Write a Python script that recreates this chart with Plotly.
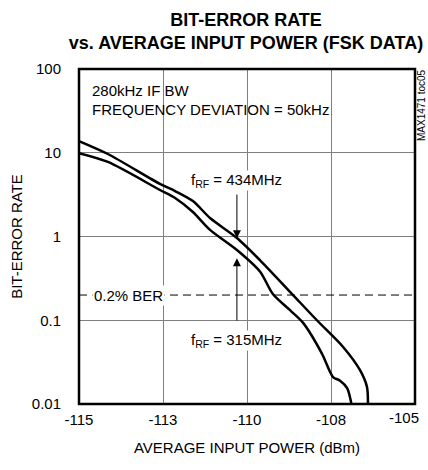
import math
import plotly.graph_objects as go

# Data (x: average input power dBm, y: bit-error rate)
x_434 = [-115.0, -114.14, -112.59, -112.14, -111.61, -111.10, -110.30, -109.61,
         -108.63, -107.92, -107.14, -106.64, -106.43, -106.40]
ber_434 = [13.8, 9.66, 4.24, 3.49, 2.65, 1.66, 0.96, 0.52,
           0.20, 0.10, 0.048, 0.0255, 0.016, 0.0098]

x_315 = [-115.0, -114.14, -112.59, -112.14, -111.61, -111.10, -110.30, -109.61,
         -109.23, -108.72, -108.33, -107.77, -107.44, -107.23, -107.02, -106.88]
ber_315 = [9.9, 7.76, 3.59, 2.88, 1.96, 1.20, 0.69, 0.38,
           0.206, 0.132, 0.093, 0.040, 0.021, 0.019, 0.0155, 0.0095]

ber_ref_level = 0.2
x_ticks = [-115, -112.5, -110, -107.5, -105]
x_tick_text = ["-115", "-113", "-110", "-108", "-105"]
y_ticks = [0.01, 0.1, 1, 10, 100]
y_tick_text = ["0.01", "0.1", "1", "10", "100"]

FONT = "Liberation Sans, Arial, sans-serif"
L, R, T, B = 79, 13, 69, 66
W, H = 428, 470


def lg(v):
    return math.log10(v)


def px_x(p):
    return (p - L) / (W - L - R)


def px_y(p):
    return 1 - (p - T) / (H - T - B)


fig = go.Figure()
fig.add_trace(go.Scatter(x=x_434, y=ber_434, mode="lines",
                         line=dict(color="black", width=2.5, shape="spline", smoothing=0.8),
                         showlegend=False, hoverinfo="skip"))
fig.add_trace(go.Scatter(x=x_315, y=ber_315, mode="lines",
                         line=dict(color="black", width=2.5, shape="spline", smoothing=0.8),
                         showlegend=False, hoverinfo="skip"))
fig.add_trace(go.Scatter(x=[x_ticks[0], x_ticks[-1]], y=[ber_ref_level, ber_ref_level], mode="lines",
                         line=dict(color="black", width=1, dash="8px,5px"), showlegend=False, hoverinfo="skip"))

ann = []
ann.append(dict(x=-114.67, y=lg(55), xref="x", yref="y", text="280kHz IF BW", showarrow=False,
                xanchor="left", yanchor="middle", font=dict(size=15)))
ann.append(dict(x=-114.67, y=lg(32.4), xref="x", yref="y", text="FREQUENCY DEVIATION = 50kHz", showarrow=False,
                xanchor="left", yanchor="middle", font=dict(size=15)))
ann.append(dict(x=-110.3, y=lg(4.7), xref="x", yref="y", text="f<sub>RF</sub> = 434MHz", showarrow=False,
                xanchor="center", yanchor="middle", font=dict(size=15), bgcolor="white", borderpad=0))
ann.append(dict(x=-110.3, y=lg(0.058), xref="x", yref="y", text="f<sub>RF</sub> = 315MHz", showarrow=False,
                xanchor="center", yanchor="middle", font=dict(size=15), bgcolor="white", borderpad=0))
ann.append(dict(x=-113.54, y=lg(ber_ref_level), xref="x", yref="y", text="0.2% BER", showarrow=False,
                xanchor="center", yanchor="middle", font=dict(size=15), bgcolor="white", borderpad=1))
# arrows
ann.append(dict(x=-110.3, y=lg(0.95), xref="x", yref="y", ax=-110.3, ay=lg(3.3), axref="x", ayref="y",
                text="", showarrow=True, arrowhead=2, arrowsize=1.6, arrowwidth=1, arrowcolor="black"))
ann.append(dict(x=-110.3, y=lg(0.55), xref="x", yref="y", ax=-110.3, ay=lg(0.095), axref="x", ayref="y",
                text="", showarrow=True, arrowhead=2, arrowsize=1.6, arrowwidth=1, arrowcolor="black"))
ann.append(dict(x=px_x(421), y=px_y(105), xref="paper", yref="paper", text="MAX1471 toc05", showarrow=False,
                textangle=-90, font=dict(size=10), xanchor="center", yanchor="middle"))
# last x tick label drawn right-aligned so it stays inside the page, as in the reference
ann.append(dict(x=x_ticks[-1], y=0, xref="x", yref="paper", text=x_tick_text[-1], showarrow=False,
                xanchor="right", yanchor="top", xshift=6, yshift=-3, font=dict(size=15)))

fig.update_layout(
    width=W, height=H,
    margin=dict(l=L, r=R, t=T, b=B, autoexpand=False),
    paper_bgcolor="white", plot_bgcolor="white",
    font=dict(family=FONT, color="black", size=15),
    title=dict(text="<b>BIT-ERROR RATE<br>vs. AVERAGE INPUT POWER (FSK DATA)</b>",
               x=246 / W, xanchor="center", y=1 - 26 / H, yanchor="middle",
               font=dict(size=18, family=FONT, color="black")),
    annotations=ann,
    shapes=[dict(type="rect", xref="paper", yref="paper", x0=0, x1=1, y0=0, y1=1,
                 line=dict(color="black", width=2.5), layer="above")],
)

fig.update_xaxes(range=[-115, -105], tickvals=x_ticks[:-1], ticktext=x_tick_text[:-1],
                 showgrid=True, gridcolor="#7f7f7f", gridwidth=1,
                 showline=False,
                 ticks="", tickfont=dict(size=15), zeroline=False, automargin=False,
                 ticklabelstandoff=5,
                 title=dict(text="AVERAGE INPUT POWER (dBm)", font=dict(size=15), standoff=15))
fig.update_yaxes(type="log", range=[-2, 2], tickvals=y_ticks, ticktext=y_tick_text,
                 showgrid=True, gridcolor="#7f7f7f", gridwidth=1,
                 showline=False,
                 ticks="", tickfont=dict(size=15), zeroline=False, automargin=False,
                 ticklabelstandoff=17,
                 title=dict(text="BIT-ERROR RATE", font=dict(size=15), standoff=5))

fig.write_html("out.html", config={"displayModeBar": False},
               post_script="document.body.style.margin='0px';document.body.style.overflow='hidden';")
